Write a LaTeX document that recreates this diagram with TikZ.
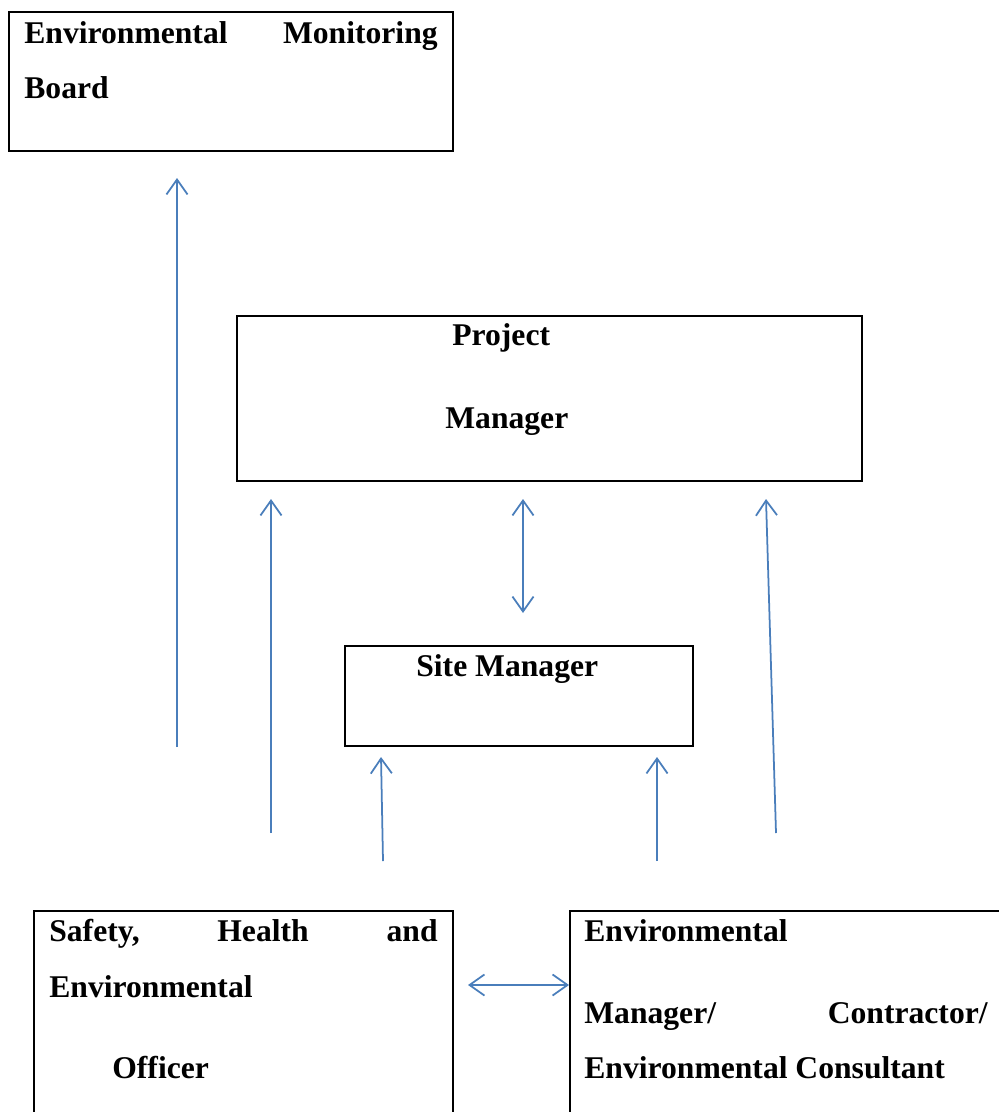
\documentclass[tikz,border=0pt]{standalone}
\usepackage{fontspec}
\setmainfont{Liberation Serif}
\usepackage{xcolor}
\usetikzlibrary{arrows.meta,fit}

\definecolor{arrowblue}{RGB}{74,126,187}

\begin{document}
\begin{tikzpicture}[x=0.02cm,y=-0.02cm,
    box/.style={draw,line width=1.2pt,inner sep=0pt},
    lbl/.style={font=\bfseries\fontsize{18}{22}\selectfont,inner sep=0pt,anchor=base west},
    lblr/.style={lbl,anchor=base east},
    flow/.style={draw=arrowblue,line width=1pt},
    >={Straight Barb[length=8.5pt,width=12pt]}]
    \useasboundingbox (0,0) rectangle (998,1112);

    % the five boxes
    \node[box,fit={(9,12) (453,151)}] (emb) {};
    \node[box,fit={(237,316) (862,481)}] (pm) {};
    \node[box,fit={(345,646) (693,746)}] (sm) {};
    \node[box,fit={(34,911) (453,1130)}] (sheo) {};
    \node[box,fit={(570,911) (1015,1130)}] (emc) {};

    % texts in the boxes
    \node[lbl] (emb-1) at (24,43) {Environmental};
    \node[lblr] (emb-2) at (438,43) {Monitoring};
    \node[lbl] (emb-3) at (24,98) {Board};
    \node[lbl] (pm-1) at (452,345) {Project};
    \node[lbl] (pm-2) at (445,428) {Manager};
    \node[lbl] (sm-1) at (416,676) {Site Manager};
    \node[lbl] (sheo-1) at (49,941) {Safety,};
    \node[lbl] (sheo-2) at (217,941) {Health};
    \node[lblr] (sheo-3) at (438,941) {and};
    \node[lbl] (sheo-4) at (49,997) {Environmental};
    \node[lbl] (sheo-5) at (112,1078) {Officer};
    \node[lbl] (emc-1) at (584,941) {Environmental};
    \node[lbl] (emc-2) at (584,1023) {Manager/};
    \node[lblr] (emc-3) at (988,1023) {Contractor/};
    \node[lbl] (emc-4) at (584,1078) {Environmental Consultant};

    % arrow ends
    \coordinate (a1s) at (177,747);
    \coordinate (a1e) at (177,178);
    \coordinate (a2s) at (271,833);
    \coordinate (a2e) at (271,499);
    \coordinate (a3s) at (523,613);
    \coordinate (a3e) at (523,499);
    \coordinate (a4s) at (776,833);
    \coordinate (a4e) at (766,499);
    \coordinate (a5s) at (383,861);
    \coordinate (a5e) at (381,757);
    \coordinate (a6s) at (657,861);
    \coordinate (a6e) at (657,757);
    \coordinate (a7s) at (468,985);
    \coordinate (a7e) at (569,985);

    % arrows
    \draw[flow,->] (a1s) -- (a1e);
    \draw[flow,->] (a2s) -- (a2e);
    \draw[flow,<->] (a3s) -- (a3e);
    \draw[flow,->] (a4s) -- (a4e);
    \draw[flow,->] (a5s) -- (a5e);
    \draw[flow,->] (a6s) -- (a6e);
    \draw[flow,<->] (a7s) -- (a7e);
\end{tikzpicture}
\end{document}
